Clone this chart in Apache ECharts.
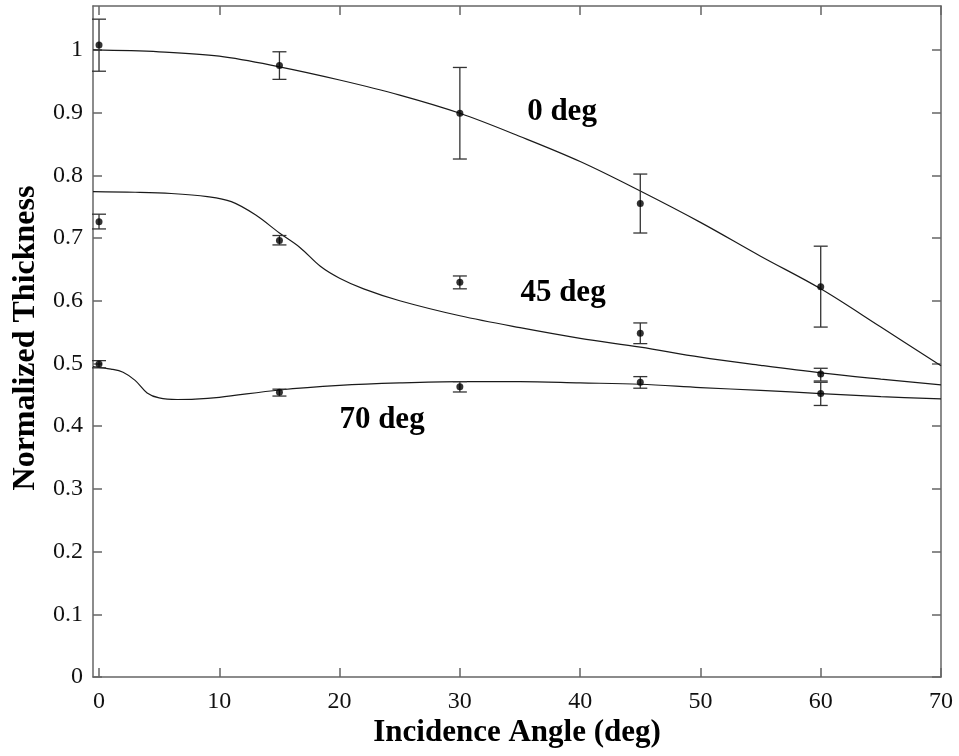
<!DOCTYPE html>
<html>
<head>
<meta charset="utf-8">
<script src="https://cdn.jsdelivr.net/npm/echarts@6/dist/echarts.min.js"></script>
<style>
html,body{margin:0;padding:0;background:#fff;}
#chart{width:959px;height:756px;}
</style>
</head>
<body>
<div id="chart"></div>
<script>
// ---- data ----
var angles = [0, 15, 30, 45, 60];
var mean0 = [1.008, 0.975, 0.899, 0.755, 0.6225];
var lo0 = [0.966, 0.953, 0.826, 0.708, 0.558];
var hi0 = [1.049, 0.997, 0.972, 0.802, 0.687];
var mean45 = [0.726, 0.696, 0.6295, 0.548, 0.483];
var lo45 = [0.7145, 0.689, 0.619, 0.5316, 0.472];
var hi45 = [0.738, 0.704, 0.6395, 0.5646, 0.4923];
var mean70 = [0.499, 0.454, 0.463, 0.470, 0.452];
var lo70 = [0.493, 0.448, 0.4545, 0.4605, 0.433];
var hi70 = [0.5045, 0.459, 0.471, 0.479, 0.470];

var curve0X = [-0.5, 5, 10, 15, 20, 25, 30, 35, 40, 45, 50, 55, 60, 65, 70];
var curve0Y = [1.0, 0.997, 0.990, 0.973, 0.952, 0.928, 0.899, 0.862, 0.822, 0.775, 0.725, 0.671, 0.619, 0.558, 0.4965];
var curve45X = [-0.5, 3, 6, 9, 11, 13, 15, 16.7, 18.4, 20, 22, 25, 30, 35, 40, 45, 50, 55, 60, 65, 70];
var curve45Y = [0.774, 0.773, 0.771, 0.766, 0.758, 0.737, 0.708, 0.685, 0.655, 0.636, 0.619, 0.600, 0.576, 0.557, 0.540, 0.526, 0.510, 0.497, 0.485, 0.475, 0.4657];
var curve70X = [-0.5, 1, 2, 3, 4, 5, 6.5, 8, 10, 15, 20, 25, 30, 35, 40, 45, 50, 55, 60, 65, 70];
var curve70Y = [0.495, 0.491, 0.486, 0.473, 0.453, 0.445, 0.4425, 0.443, 0.446, 0.4577, 0.465, 0.469, 0.471, 0.471, 0.469, 0.4668, 0.4615, 0.457, 0.452, 0.447, 0.4434];

var xTicks = [0, 10, 20, 30, 40, 50, 60, 70];
var yTicks = [0, 0.1, 0.2, 0.3, 0.4, 0.5, 0.6, 0.7, 0.8, 0.9, 1];
var curveLabels = ['0 deg', '45 deg', '70 deg'];
var xTitle = 'Incidence Angle (deg)';
var yTitle = 'Normalized Thickness';

// ---- build ----
function zip2(a, b) { return a.map(function (v, i) { return [v, b[i]]; }); }
function zip3(a, b, c) { return a.map(function (v, i) { return [v, b[i], c[i]]; }); }

var axisColor = '#666';
var markColor = '#1a1a1a';
var serif = '"Liberation Serif", "Times New Roman", serif';

function errRender(params, api) {
  var x = api.value(0);
  var pLo = api.coord([x, api.value(1)]);
  var pHi = api.coord([x, api.value(2)]);
  var cap = 7;
  var st = { stroke: '#333', lineWidth: 1.3 };
  return {
    type: 'group',
    children: [
      { type: 'line', shape: { x1: pLo[0], y1: pLo[1], x2: pHi[0], y2: pHi[1] }, style: st },
      { type: 'line', shape: { x1: pLo[0] - cap, y1: pLo[1], x2: pLo[0] + cap, y2: pLo[1] }, style: st },
      { type: 'line', shape: { x1: pHi[0] - cap, y1: pHi[1], x2: pHi[0] + cap, y2: pHi[1] }, style: st }
    ]
  };
}

var chart = echarts.init(document.getElementById('chart'), null, { renderer: 'canvas' });

var xCommon = { type: 'value', min: -0.5, max: 70, splitLine: { show: false },
  axisLine: { show: true, onZero: false, lineStyle: { color: axisColor, width: 1.5 } } };
var yCommon = { type: 'value', min: 0, max: 1.07, splitLine: { show: false },
  axisLine: { show: true, onZero: false, lineStyle: { color: axisColor, width: 1.5 } } };

function lineSeries(xs, ys) {
  return {
    type: 'line', data: zip2(xs, ys), showSymbol: false, symbol: 'none',
    smooth: 0.35,
    lineStyle: { color: markColor, width: 1.2 }, silent: true, z: 2
  };
}
function pointSeries(ys) {
  return {
    type: 'scatter', data: zip2(angles, ys), symbol: 'circle', symbolSize: 7,
    itemStyle: { color: '#000' }, z: 4
  };
}
function errSeries(lo, hi) {
  return { type: 'custom', data: zip3(angles, lo, hi), renderItem: errRender, z: 3 };
}

var option = {
  backgroundColor: '#ffffff',
  animation: false,
  grid: { left: 93, right: 18, top: 6, bottom: 79, containLabel: false },
  xAxis: [
    Object.assign({}, xCommon, {
      position: 'bottom',
      axisTick: { show: true, inside: true, length: 9, customValues: xTicks, lineStyle: { color: axisColor, width: 1.5 } },
      axisLabel: { show: true, customValues: xTicks, margin: 13, color: '#111', fontFamily: serif, fontSize: 24 }
    }),
    Object.assign({}, xCommon, {
      position: 'top',
      axisTick: { show: true, inside: true, length: 9, customValues: xTicks, lineStyle: { color: axisColor, width: 1.5 } },
      axisLabel: { show: false }
    })
  ],
  yAxis: [
    Object.assign({}, yCommon, {
      position: 'left',
      axisTick: { show: true, inside: true, length: 9, customValues: yTicks, lineStyle: { color: axisColor, width: 1.5 } },
      axisLabel: { show: true, customValues: yTicks, margin: 10, color: '#111', fontFamily: serif, fontSize: 24,
        formatter: function (v) { return String(Math.round(v * 10) / 10); } }
    }),
    Object.assign({}, yCommon, {
      position: 'right',
      axisTick: { show: true, inside: true, length: 9, customValues: yTicks, lineStyle: { color: axisColor, width: 1.5 } },
      axisLabel: { show: false }
    })
  ],
  series: [
    lineSeries(curve0X, curve0Y),
    lineSeries(curve45X, curve45Y),
    lineSeries(curve70X, curve70Y),
    errSeries(lo0, hi0),
    errSeries(lo45, hi45),
    errSeries(lo70, hi70),
    pointSeries(mean0),
    pointSeries(mean45),
    pointSeries(mean70)
  ],
  graphic: [
    { type: 'text', x: 562, y: 112, style: { text: curveLabels[0], font: 'bold 31px ' + serif, fill: '#000', align: 'center', verticalAlign: 'middle' } },
    { type: 'text', x: 563, y: 293, style: { text: curveLabels[1], font: 'bold 31px ' + serif, fill: '#000', align: 'center', verticalAlign: 'middle' } },
    { type: 'text', x: 382, y: 420, style: { text: curveLabels[2], font: 'bold 31px ' + serif, fill: '#000', align: 'center', verticalAlign: 'middle' } },
    { type: 'text', x: 517, y: 733, style: { text: xTitle, font: 'bold 31px ' + serif, fill: '#000', align: 'center', verticalAlign: 'middle' } },
    { type: 'text', x: 26, y: 338, rotation: Math.PI / 2, style: { text: yTitle, font: 'bold 32px ' + serif, fill: '#000', align: 'center', verticalAlign: 'middle' } }
  ]
};
chart.setOption(option);
</script>
</body>
</html>
